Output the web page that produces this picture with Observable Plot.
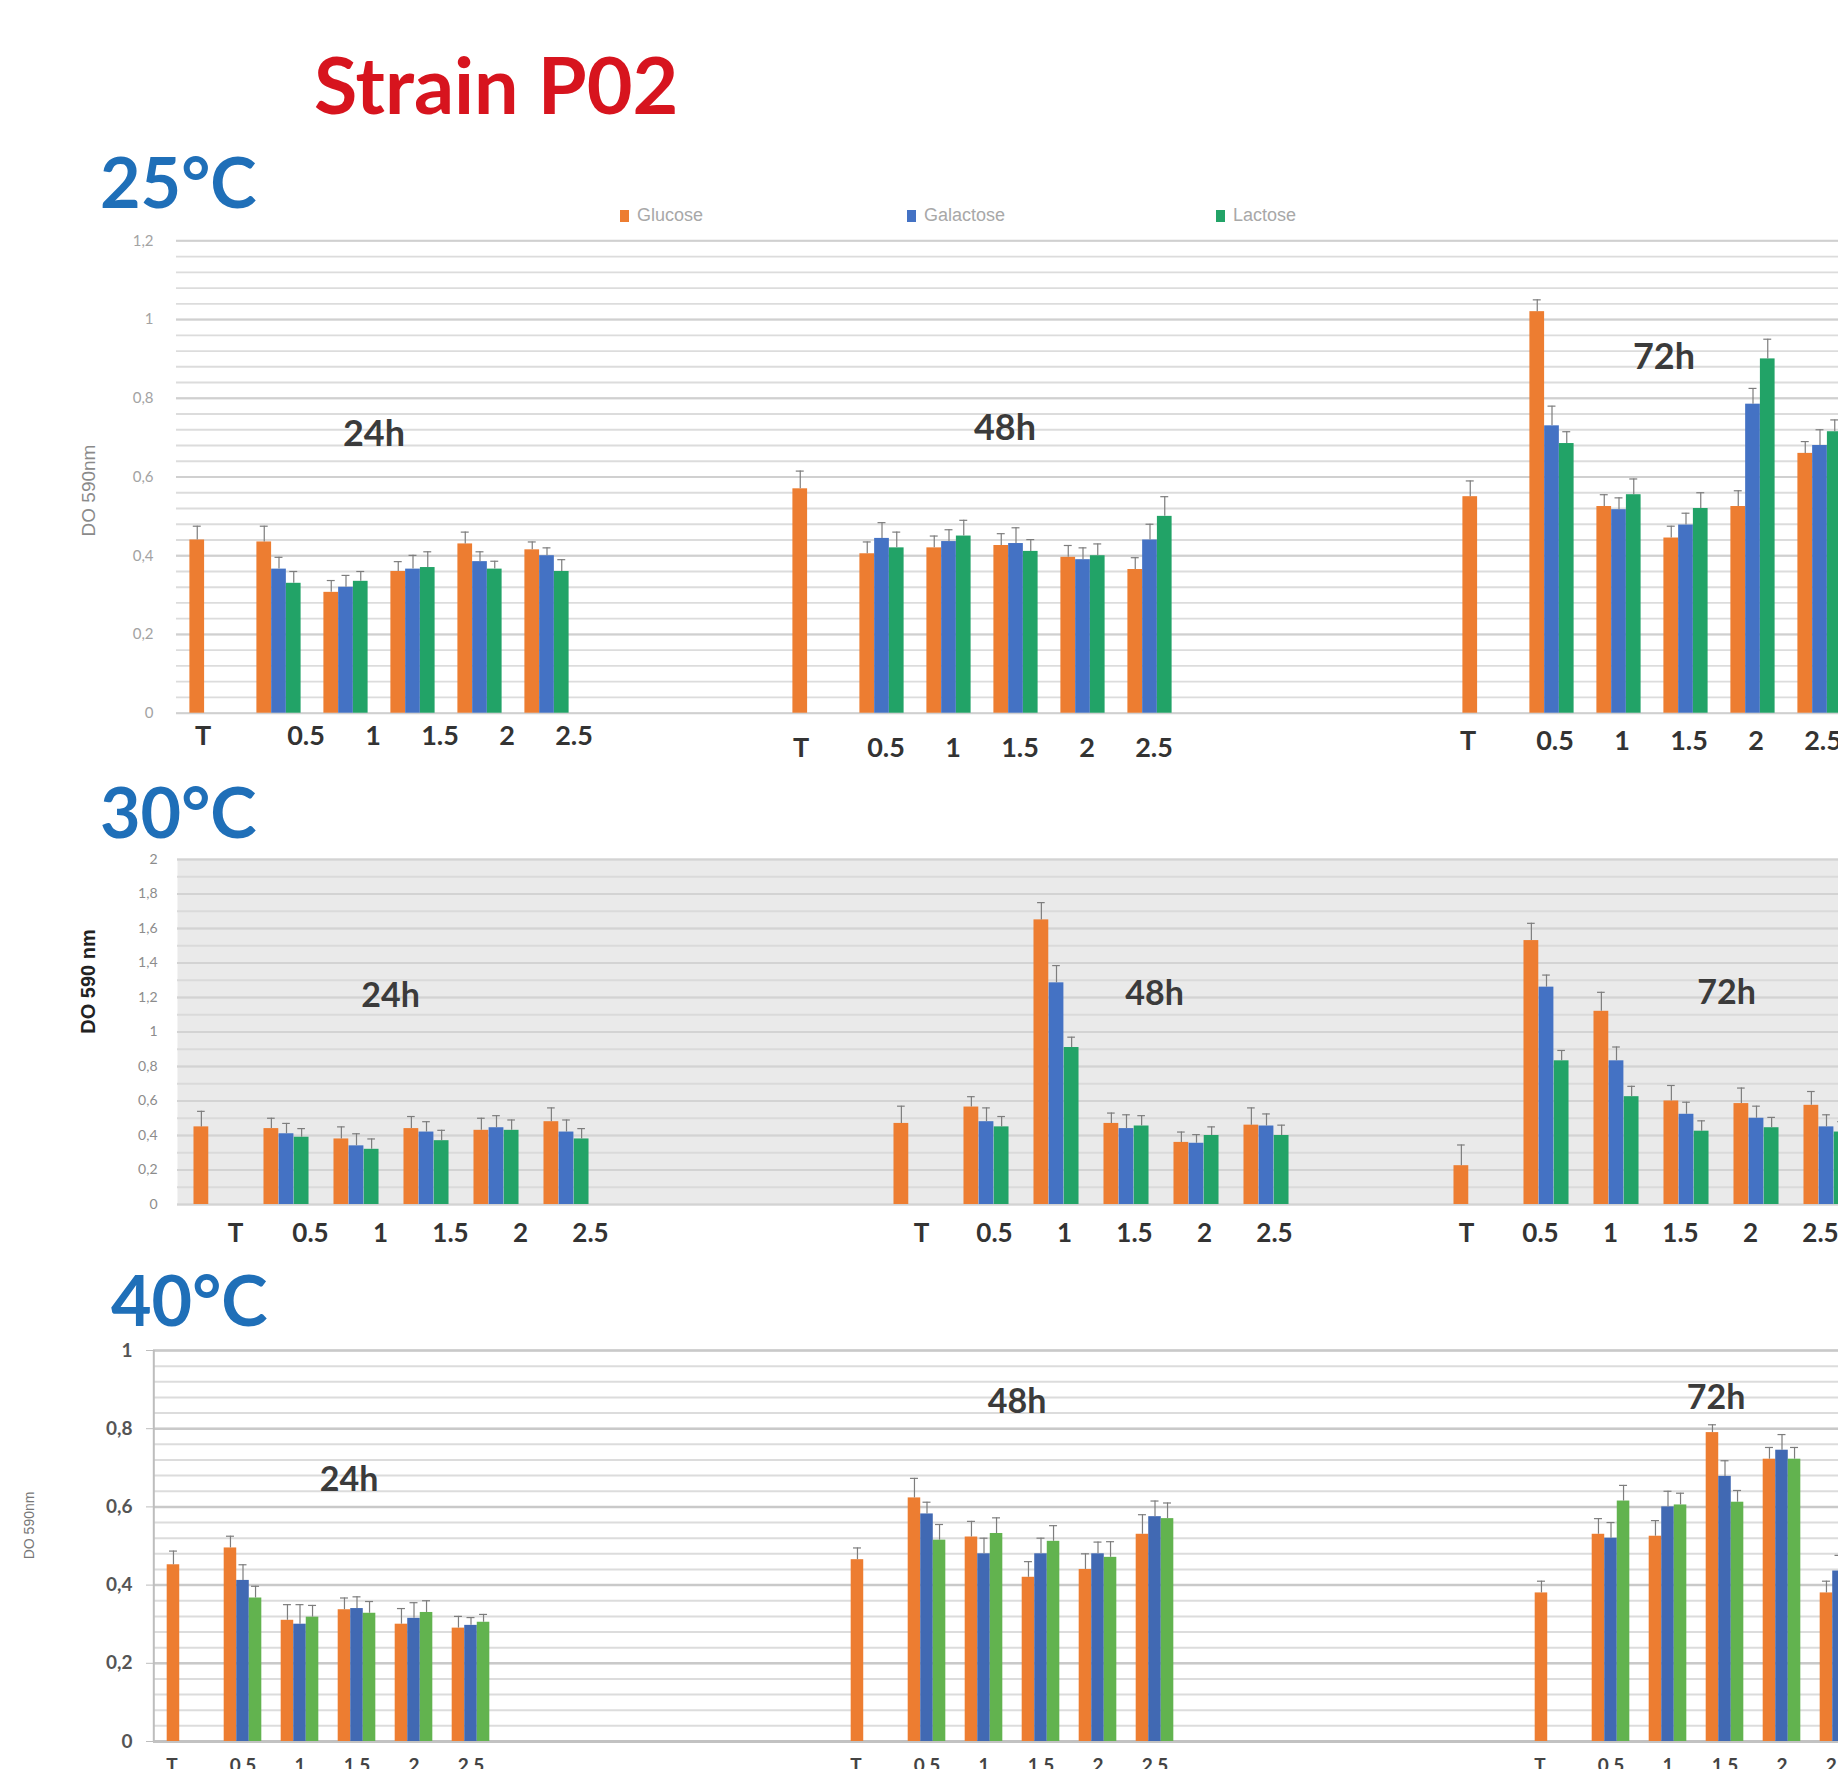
<!DOCTYPE html>
<html>
<head>
<meta charset="utf-8">
<script src="https://cdn.jsdelivr.net/npm/d3@7"></script>
<script src="https://cdn.jsdelivr.net/npm/@observablehq/plot@0.6"></script>
<style>
html, body { margin: 0; padding: 0; background: #fff; overflow: hidden; }
#page { position: relative; width: 1838px; height: 1769px; overflow: hidden; background: #fff; }
.panel { position: absolute; left: 0; }
#overlay { position: absolute; left: 0; top: 0; pointer-events: none; }
</style>
</head>
<body>
<div id="page"></div>
<script>
// ---------- categories ----------
const times = ["24h", "48h", "72h"];
const doses = ["T", "0.5", "1", "1.5", "2", "2.5"];
const sugars = ["Glucose", "Galactose", "Lactose"];
const temperatures = ["25°C", "30°C", "40°C"];

// ---------- y tick values ----------
const yTicks25 = [0, 0.2, 0.4, 0.6, 0.8, 1, 1.2];
const yTicks30 = [0, 0.2, 0.4, 0.6, 0.8, 1, 1.2, 1.4, 1.6, 1.8, 2];
const yTicks40 = [0, 0.2, 0.4, 0.6, 0.8, 1];

// ---------- values (order: 24h T..2.5, 48h T..2.5, 72h T..2.5) ----------
const glucose25   = [0.44, 0.435, 0.307, 0.36, 0.43, 0.415,   0.57, 0.405, 0.42, 0.426, 0.396, 0.365,   0.55, 1.02, 0.525, 0.445, 0.525, 0.66];
const galactose25 = [null, 0.366, 0.32, 0.366, 0.385, 0.40,   null, 0.444, 0.436, 0.431, 0.39, 0.44,    null, 0.73, 0.517, 0.478, 0.785, 0.68];
const lactose25   = [null, 0.33, 0.335, 0.37, 0.366, 0.36,    null, 0.42, 0.45, 0.411, 0.40, 0.50,      null, 0.685, 0.555, 0.52, 0.90, 0.715];

const glucose30   = [0.45, 0.44, 0.38, 0.44, 0.43, 0.48,      0.47, 0.565, 1.65, 0.47, 0.36, 0.46,      0.225, 1.53, 1.12, 0.60, 0.585, 0.575];
const galactose30 = [null, 0.41, 0.34, 0.42, 0.445, 0.42,     null, 0.48, 1.285, 0.44, 0.355, 0.455,    null, 1.26, 0.833, 0.523, 0.50, 0.45];
const lactose30   = [null, 0.39, 0.32, 0.37, 0.43, 0.38,      null, 0.45, 0.91, 0.455, 0.40, 0.40,      null, 0.833, 0.625, 0.425, 0.445, 0.42];

const glucose40   = [0.452, 0.495, 0.31, 0.337, 0.30, 0.29,   0.465, 0.623, 0.523, 0.42, 0.44, 0.53,    0.38, 0.53, 0.525, 0.79, 0.722, 0.38];
const galactose40 = [null, 0.412, 0.30, 0.34, 0.315, 0.297,   null, 0.582, 0.48, 0.48, 0.48, 0.575,     null, 0.52, 0.60, 0.678, 0.745, 0.436];
const lactose40   = [null, 0.367, 0.318, 0.328, 0.33, 0.305,  null, 0.515, 0.532, 0.512, 0.471, 0.57,   null, 0.615, 0.605, 0.612, 0.722, 0.45];

// ---------- error bars ----------
const glucoseErr25   = [0.035, 0.04, 0.03, 0.025, 0.03, 0.02,  0.045, 0.03, 0.03, 0.03, 0.03, 0.03,  0.04, 0.03, 0.03, 0.03, 0.04, 0.03];
const galactoseErr25 = [null, 0.03, 0.03, 0.035, 0.025, 0.02,  null, 0.04, 0.03, 0.04, 0.03, 0.04,   null, 0.05, 0.03, 0.03, 0.04, 0.04];
const lactoseErr25   = [null, 0.03, 0.025, 0.04, 0.02, 0.03,   null, 0.04, 0.04, 0.03, 0.03, 0.05,   null, 0.03, 0.04, 0.04, 0.05, 0.03];

const glucoseErr30   = [0.09, 0.06, 0.07, 0.07, 0.07, 0.08,    0.10, 0.06, 0.10, 0.06, 0.06, 0.10,   0.12, 0.10, 0.11, 0.09, 0.09, 0.08];
const galactoseErr30 = [null, 0.06, 0.07, 0.06, 0.07, 0.07,    null, 0.08, 0.10, 0.08, 0.05, 0.07,   null, 0.07, 0.08, 0.07, 0.07, 0.07];
const lactoseErr30   = [null, 0.05, 0.06, 0.06, 0.06, 0.06,    null, 0.06, 0.06, 0.06, 0.05, 0.06,   null, 0.06, 0.06, 0.06, 0.06, 0.06];

const glucoseErr40   = [0.035, 0.03, 0.04, 0.03, 0.04, 0.03,   0.03, 0.05, 0.04, 0.04, 0.04, 0.05,   0.03, 0.04, 0.04, 0.02, 0.03, 0.03];
const galactoseErr40 = [null, 0.04, 0.05, 0.03, 0.04, 0.02,    null, 0.03, 0.04, 0.04, 0.03, 0.04,   null, 0.04, 0.04, 0.04, 0.04, 0.04];
const lactoseErr40   = [null, 0.03, 0.03, 0.03, 0.03, 0.02,    null, 0.04, 0.04, 0.04, 0.04, 0.04,   null, 0.04, 0.03, 0.03, 0.03, 0.04];

// ---------- layout / style per panel ----------
const panels = [
  {
    temp: temperatures[0], top: 190, height: 580, marginTop: 50.3, marginBottom: 57.3, marginLeft: 176,
    xStart: 177.5, step: 67.05, gaps: [3, 4], barFrac: 0.22,
    values: [glucose25, galactose25, lactose25], errors: [glucoseErr25, galactoseErr25, lactoseErr25],
    yMax: 1.2, ticks: yTicks25, minorStep: 0.04,
    colors: ["#ed7d31", "#4472c4", "#22a367"],
    background: null, minorColor: "#dcdcdc", minorWidth: 1.8, majorColor: "#d0d0d0", majorWidth: 2,
    tickSize: 0, tickPadding: 23, tickFont: 15, tickColor: "#a3a3a3", tickWeight: "normal",
    yTitle: "DO 590nm", yTitleAt: 0.449, yTitleDx: -88, yTitleFont: 19, yTitleColor: "#8a8a8a", yTitleWeight: "normal",
    labelFont: 27, labelColor: "#333", labelAnchor: "middle", labelDy: [23, 35, 28], labelDx: [27, 4, 3], tDx: [-9, -14, -17],
    groupAt: [0.708, 0.723, 0.903], groupDx: [-39, -11, -22], groupFont: 36,
    errColor: "#7d7d7d", axisLine: false
  },
  {
    temp: temperatures[1], top: 850, height: 400, marginTop: 9, marginBottom: 46, marginLeft: 177,
    xStart: 177, step: 70.33, gaps: [4, 2], barFrac: 0.215,
    values: [glucose30, galactose30, lactose30], errors: [glucoseErr30, galactoseErr30, lactoseErr30],
    yMax: 2, ticks: yTicks30, minorStep: 0.1,
    colors: ["#ed7d31", "#4472c4", "#22a367"],
    background: "#eaeaea", minorColor: "#dadada", minorWidth: 2, majorColor: "#d3d3d3", majorWidth: 2,
    tickSize: 0, tickPadding: 20, tickFont: 14, tickColor: "#8c8c8c", tickWeight: "normal",
    yTitle: "DO 590 nm", yTitleAt: 0.99, yTitleDx: -89, yTitleFont: 20, yTitleColor: "#222", yTitleWeight: "bold",
    labelFont: 26, labelColor: "#333", labelAnchor: "middle", labelDy: [29, 29, 29], labelDx: [24, 8, -6], tDx: [19, 5, -10],
    groupAt: [1.206, 1.217, 1.223], groupDx: [-36, 28, 40], groupFont: 34,
    errColor: "#7d7d7d", axisLine: false
  },
  {
    temp: temperatures[2], top: 1290, height: 479, marginTop: 60, marginBottom: 28, marginLeft: 153,
    xStart: 156.7, step: 57, gaps: [6, 6], barFrac: 0.22,
    values: [glucose40, galactose40, lactose40], errors: [glucoseErr40, galactoseErr40, lactoseErr40],
    yMax: 1, ticks: yTicks40, minorStep: 0.04,
    colors: ["#ed7d31", "#4169b3", "#62b34f"],
    background: null, minorColor: "#dcdcdc", minorWidth: 2, majorColor: "#c9c9c9", majorWidth: 2.5,
    tickSize: 7, tickPadding: 14, tickFont: 19, tickColor: "#555", tickWeight: "bold",
    yTitle: "DO 590nm", yTitleAt: 0.466, yTitleDx: -124, yTitleFont: 14, yTitleColor: "#777", yTitleWeight: "normal",
    labelFont: 19, labelColor: "#444", labelAnchor: "top", labelDy: [17, 17, 17], labelDx: [0, 0, 0], tDx: [-14, -14, -14],
    groupAt: [0.668, 0.868, 0.878], groupDx: [-8, -24, -9], groupFont: 34,
    errColor: "#7d7d7d", axisLine: true
  }
];

const page = document.getElementById("page");
const fmt = d => String(d).replace(".", ",");

function drawPanel(cfg) {
  const domain = [];
  times.forEach((t, ti) => {
    doses.forEach(d => domain.push(t + " " + d));
    if (ti < times.length - 1) for (let k = 0; k < cfg.gaps[ti]; k++) domain.push("_gap" + ti + "_" + k);
  });
  const bw = cfg.step;
  const w = bw * cfg.barFrac;
  const left = j => bw / 2 - 1.5 * w + j * w;
  const cap = 4;

  const rows = [];
  cfg.values.forEach((arr, j) => arr.forEach((v, i) => {
    if (v == null) return;
    const t = times[Math.floor(i / doses.length)], d = doses[i % doses.length];
    rows.push({key: t + " " + d, time: t, dose: d, sugar: sugars[j], j, value: v, err: cfg.errors[j][i]});
  }));

  const minor = d3.range(0, cfg.yMax + 1e-9, cfg.minorStep);
  const marks = [];
  if (cfg.background) marks.push(Plot.frame({fill: cfg.background, stroke: "none"}));
  marks.push(Plot.ruleY(minor, {stroke: cfg.minorColor, strokeWidth: cfg.minorWidth}));
  marks.push(Plot.ruleY(cfg.ticks, {stroke: cfg.majorColor, strokeWidth: cfg.majorWidth}));
  if (cfg.axisLine) {
    marks.push(Plot.ruleY([0], {stroke: "#c2c2c2", strokeWidth: 3}));
    marks.push(Plot.ruleX([domain[0]], {stroke: "#bdbdbd", strokeWidth: 2, dx: cfg.marginLeft - cfg.xStart - bw / 2}));
  }

  sugars.forEach((s, j) => {
    const sub = rows.filter(r => r.j === j);
    marks.push(Plot.barY(sub, {
      x: "key", y: "value", fill: cfg.colors[j],
      insetLeft: left(j), insetRight: bw - left(j) - w
    }));
  });
  sugars.forEach((s, j) => {
    const sub = rows.filter(r => r.j === j);
    marks.push(Plot.ruleX(sub, {
      x: "key", y1: "value", y2: d => d.value + d.err, dx: (j - 1) * w,
      stroke: cfg.errColor, strokeWidth: 1.2
    }));
    marks.push(Plot.tickY(sub, {
      x: "key", y: d => d.value + d.err,
      insetLeft: left(j) + w / 2 - cap, insetRight: bw - left(j) - w / 2 - cap,
      stroke: cfg.errColor, strokeWidth: 1.2
    }));
  });

  // y axis
  marks.push(Plot.axisY({
    ticks: cfg.ticks, tickFormat: fmt, tickSize: cfg.tickSize, tickPadding: cfg.tickPadding,
    fontSize: cfg.tickFont, fill: cfg.tickColor, stroke: "#bdbdbd", fontWeight: cfg.tickWeight, label: null
  }));

  // y title
  marks.push(Plot.text([{v: cfg.yTitleAt, s: cfg.yTitle}], {
    y: "v", text: "s", frameAnchor: "left", dx: cfg.yTitleDx, rotate: -90,
    fontSize: cfg.yTitleFont, fill: cfg.yTitleColor, fontWeight: cfg.yTitleWeight,
    fontFamily: "'Liberation Sans', Arial, sans-serif"
  }));

  // x category labels & time-group labels
  times.forEach((t, ti) => {
    const lab = doses.slice(1).map(d => ({key: t + " " + d, d}));
    marks.push(Plot.text(lab, {
      x: "key", text: "d", frameAnchor: "bottom", lineAnchor: cfg.labelAnchor,
      dy: cfg.labelDy[ti], dx: cfg.labelDx[ti],
      fontSize: cfg.labelFont, fontWeight: "bold", fill: cfg.labelColor
    }));
    marks.push(Plot.text([{key: t + " " + doses[0], d: doses[0]}], {
      x: "key", text: "d", frameAnchor: "bottom", lineAnchor: cfg.labelAnchor,
      dy: cfg.labelDy[ti], dx: cfg.tDx[ti],
      fontSize: cfg.labelFont, fontWeight: "bold", fill: cfg.labelColor
    }));
    marks.push(Plot.text([{key: t + " " + doses[3], v: cfg.groupAt[ti], t}], {
      x: "key", y: "v", text: "t", dx: cfg.groupDx[ti],
      fontSize: cfg.groupFont, fontWeight: "bold", fill: "#3b3b3b"
    }));
  });

  const svg = Plot.plot({
    width: 1838, height: cfg.height,
    marginLeft: cfg.marginLeft, marginRight: 0, marginTop: cfg.marginTop, marginBottom: cfg.marginBottom,
    x: {type: "band", domain, range: [cfg.xStart, cfg.xStart + domain.length * bw], padding: 0, axis: null},
    y: {domain: [0, cfg.yMax], axis: null},
    style: {fontFamily: "Lato, 'Liberation Sans', sans-serif", overflow: "hidden", background: "transparent"},
    marks
  });
  const div = document.createElement("div");
  div.className = "panel";
  div.style.top = cfg.top + "px";
  div.appendChild(svg);
  page.appendChild(div);
}

panels.forEach(drawPanel);

// ---------- titles and legend ----------
const ov = d3.select(page).append("svg").attr("id", "overlay")
  .attr("width", 1838).attr("height", 1769)
  .style("font-family", "Lato, 'Liberation Sans', sans-serif");

ov.append("text").attr("x", 314).attr("y", 114).text("Strain P02")
  .attr("font-size", 79).attr("font-weight", "bold").attr("fill", "#d7141e");

const tempPos = [[100, 208], [100, 838], [111, 1326]];
temperatures.forEach((t, i) => {
  ov.append("text").attr("x", tempPos[i][0]).attr("y", tempPos[i][1]).text(t)
    .attr("font-size", 70).attr("font-weight", "bold").attr("fill", "#1f6fb8");
});

const legendX = [620, 907, 1216];
sugars.forEach((s, j) => {
  const g = ov.append("g").attr("transform", `translate(${legendX[j]},210)`);
  g.append("rect").attr("width", 9).attr("height", 12).attr("fill", panels[0].colors[j]);
  g.append("text").attr("x", 17).attr("y", 11).text(s)
    .attr("font-size", 18).attr("fill", "#a8a8a8")
    .attr("font-family", "'Liberation Sans', Arial, sans-serif");
});
</script>
</body>
</html>
